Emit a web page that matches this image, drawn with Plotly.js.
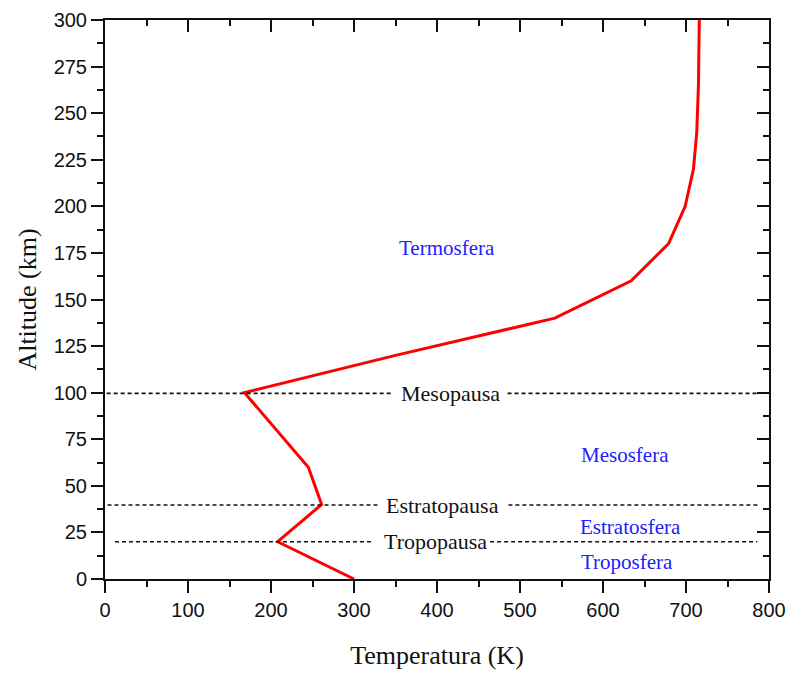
<!DOCTYPE html>
<html>
<head>
<meta charset="utf-8">
<script src="https://cdn.plot.ly/plotly-3.0.1.min.js"></script>
<style>html,body{margin:0;padding:0;background:#fff;}#chart{width:790px;height:675px;}</style>
</head>
<body>
<div id="chart"></div>
<script>
// Temperature profile (K) vs altitude (km)
const temperature = [300, 208, 261, 245, 168, 350, 542, 634, 679, 699, 709, 713, 715, 716];
const altitude    = [0,   20,  40,  60,  100, 120, 140, 160, 180, 200, 220, 240, 265, 300];

// Pause boundaries (dashed lines, interrupted around the label)
const pauseNames  = ["Tropopausa", "Estratopausa", "Mesopausa"];
const pauseAlt    = [20, 39.7, 99.6];
const pauseStartX = [12, 3, 2];
const pauseGapL   = [321, 329, 345];
const pauseGapR   = [464, 486, 485];
const pauseEndX   = [786, 786, 786];
const pauseLabelX = [398, 407, 416];

// Layer names
const layerNames = ["Troposfera", "Estratosfera", "Mesosfera", "Termosfera"];
const layerX     = [629, 633, 626, 412];
const layerY     = [9.3, 28, 66.5, 177.7];

const traces = [];
traces.push({
  x: temperature, y: altitude, type: 'scatter', mode: 'lines',
  line: {color: '#ff0000', width: 3}, hoverinfo: 'skip', showlegend: false,
  xaxis: 'x', yaxis: 'y'
});
for (let i = 0; i < pauseNames.length; i++) {
  traces.push({
    x: [pauseStartX[i], pauseGapL[i], null, pauseGapR[i], pauseEndX[i]],
    y: [pauseAlt[i], pauseAlt[i], null, pauseAlt[i], pauseAlt[i]],
    type: 'scatter', mode: 'lines', connectgaps: false,
    line: {color: '#111', width: 1.6, dash: '4px,3px'},
    hoverinfo: 'skip', showlegend: false, xaxis: 'x2', yaxis: 'y2'
  });
}

const annotations = [];
for (let i = 0; i < pauseNames.length; i++) {
  annotations.push({
    x: pauseLabelX[i], y: pauseAlt[i], xref: 'x', yref: 'y',
    text: pauseNames[i], showarrow: false,
    font: {family: 'Liberation Serif, Times New Roman, serif', size: 22, color: '#111'}
  });
}
for (let i = 0; i < layerNames.length; i++) {
  annotations.push({
    x: layerX[i], y: layerY[i], xref: 'x', yref: 'y',
    text: layerNames[i], showarrow: false,
    font: {family: 'Liberation Serif, Times New Roman, serif', size: 21, color: '#2020ff'}
  });
}

const tickFont = {family: 'Liberation Sans, Arial, sans-serif', size: 20, color: '#111'};
const titleFont = {family: 'Liberation Serif, Times New Roman, serif', size: 26, color: '#111'};

const layout = {
  width: 790, height: 675,
  margin: {l: 105, r: 21, t: 20, b: 96},
  paper_bgcolor: '#fff', plot_bgcolor: '#fff',
  showlegend: false,
  xaxis: {
    range: [0, 800], dtick: 100, tick0: 0, showgrid: false, zeroline: false,
    showline: true, linecolor: '#111', linewidth: 2,
    ticks: 'outside', ticklen: 12, tickwidth: 2, tickcolor: '#111',
    minor: {dtick: 50, ticks: 'outside', ticklen: 6, tickwidth: 2, tickcolor: '#111', showgrid: false},
    tickfont: tickFont,
    title: {text: 'Temperatura (K)', font: titleFont, standoff: 26}
  },
  yaxis: {
    range: [0, 300], dtick: 25, tick0: 0, showgrid: false, zeroline: false,
    showline: true, linecolor: '#111', linewidth: 2,
    ticks: 'outside', ticklen: 12, tickwidth: 2, tickcolor: '#111',
    minor: {dtick: 12.5, ticks: 'outside', ticklen: 6, tickwidth: 2, tickcolor: '#111', showgrid: false},
    tickfont: tickFont,
    title: {text: 'Altitude (km)', font: titleFont, standoff: 10}
  },
  xaxis2: {
    overlaying: 'x', side: 'top', anchor: 'y2', range: [0, 800], dtick: 100, tick0: 0,
    showgrid: false, zeroline: false, showticklabels: false,
    showline: true, linecolor: '#111', linewidth: 2,
    ticks: 'inside', ticklen: 12, tickwidth: 2, tickcolor: '#111',
    minor: {dtick: 50, ticks: 'inside', ticklen: 6, tickwidth: 2, tickcolor: '#111', showgrid: false}
  },
  yaxis2: {
    overlaying: 'y', side: 'right', anchor: 'x2', range: [0, 300], dtick: 25, tick0: 0,
    showgrid: false, zeroline: false, showticklabels: false,
    showline: true, linecolor: '#111', linewidth: 2,
    ticks: 'inside', ticklen: 12, tickwidth: 2, tickcolor: '#111',
    minor: {dtick: 12.5, ticks: 'inside', ticklen: 6, tickwidth: 2, tickcolor: '#111', showgrid: false}
  },
  annotations: annotations
};

Plotly.newPlot('chart', traces, layout, {staticPlot: true, displayModeBar: false});
</script>
</body>
</html>
